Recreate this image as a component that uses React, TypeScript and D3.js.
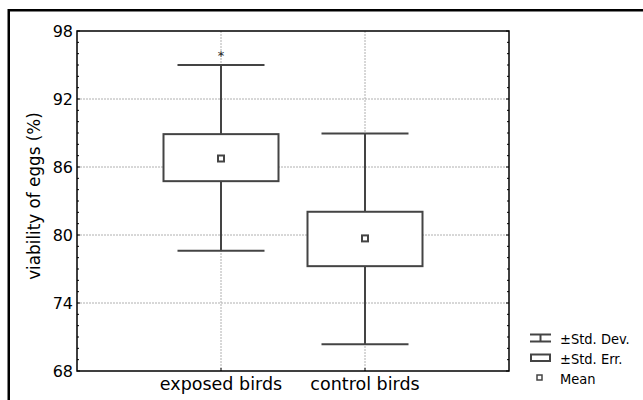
import React from "react";
import * as d3 from "d3";

const categories = ["exposed birds", "control birds"];
const means = [86.75, 79.7];
const seLow = [84.75, 77.25];
const seHigh = [88.9, 82.05];
const sdLow = [78.6, 70.35];
const sdHigh = [95.0, 88.95];
const outliers = [[95.95], []];
const yTicks = [68, 74, 80, 86, 92, 98];
const legendLabels = ["±Std. Dev.", "±Std. Err.", "Mean"];

const W = 643;
const H = 400;
const plot = { left: 77, top: 31, right: 509, bottom: 371 };
const font = "'DejaVu Sans', Verdana, sans-serif";
const boxColor = "#444";

export default function App() {
  const y = d3.scaleLinear().domain([68, 98]).range([plot.bottom, plot.top]);
  const x = d3.scalePoint<string>().domain(categories).range([plot.left, plot.right]).padding(1);
  const minor = d3.range(68, 99, 1);
  const boxHalf = 57.5;
  const capHalf = 43.5;

  return (
    <svg width={W} height={H} style={{ position: "absolute", left: 0, top: 0 }} xmlns="http://www.w3.org/2000/svg">
      <rect x={0} y={0} width={W} height={H} fill="white" />
      {/* outer frame */}
      <rect x={8.75} y={10.25} width={W + 20} height={H + 20} fill="none" stroke="black" strokeWidth={2.5} />

      {/* grid */}
      {yTicks.slice(1, -1).map((t) => (
        <line key={"gy" + t} x1={plot.left} x2={plot.right} y1={y(t)} y2={y(t)} stroke="#b0b0b0" strokeWidth={1} strokeDasharray="2,1" />
      ))}
      {categories.map((c) => (
        <line key={"gx" + c} x1={x(c)} x2={x(c)} y1={plot.top} y2={plot.bottom} stroke="#b0b0b0" strokeWidth={1} strokeDasharray="2,1" />
      ))}

      {/* minor ticks */}
      {minor.map((t) => (
        <g key={"mt" + t}>
          <line x1={plot.left} x2={plot.left + (t % 6 === 2 ? 3 : 2)} y1={y(t)} y2={y(t)} stroke="black" strokeWidth={1} />
          <line x1={plot.right} x2={plot.right - (t % 6 === 2 ? 3 : 2)} y1={y(t)} y2={y(t)} stroke="black" strokeWidth={1} />
        </g>
      ))}
      {categories.map((c) => (
        <line key={"bt" + c} x1={x(c)} x2={x(c)} y1={plot.bottom} y2={plot.bottom - 3} stroke="black" strokeWidth={1} />
      ))}

      {/* boxes */}
      {categories.map((c, i) => {
        const cx = x(c) as number;
        return (
          <g key={"box" + c} stroke={boxColor} strokeWidth={2} fill="none">
            <line x1={cx} x2={cx} y1={y(sdHigh[i])} y2={y(seHigh[i])} />
            <line x1={cx} x2={cx} y1={y(seLow[i])} y2={y(sdLow[i])} />
            <line x1={cx - capHalf} x2={cx + capHalf} y1={y(sdHigh[i])} y2={y(sdHigh[i])} />
            <line x1={cx - capHalf} x2={cx + capHalf} y1={y(sdLow[i])} y2={y(sdLow[i])} />
            <rect x={cx - boxHalf} y={y(seHigh[i])} width={boxHalf * 2} height={y(seLow[i]) - y(seHigh[i])} fill="white" />
            <rect x={cx - 3} y={y(means[i]) - 3} width={6} height={6} fill="white" />
            {outliers[i].map((o, j) => (
              <text key={j} x={cx} y={y(o) + 6} textAnchor="middle" fontFamily={font} fontSize={13} fill="#222" stroke="none">*</text>
            ))}
          </g>
        );
      })}

      {/* plot frame */}
      <rect x={plot.left} y={plot.top} width={plot.right - plot.left} height={plot.bottom - plot.top} fill="none" stroke="black" strokeWidth={1.5} />

      {/* y tick labels */}
      {yTicks.map((t) => (
        <text key={"yl" + t} x={73} y={y(t)} dy="0.36em" textAnchor="end" fontFamily={font} fontSize={16} fill="black">{t}</text>
      ))}
      {/* x labels */}
      {categories.map((c) => (
        <text key={"xl" + c} x={x(c)} y={390} textAnchor="middle" fontFamily={font} fontSize={17.5} fill="black">{c}</text>
      ))}
      {/* y title */}
      <text transform="translate(40,196) rotate(-90)" textAnchor="middle" fontFamily={font} fontSize={16.8} fill="black">viability of eggs (%)</text>

      {/* legend */}
      <g stroke={boxColor} strokeWidth={2} fill="none">
        <line x1={530} x2={551} y1={334.5} y2={334.5} />
        <line x1={530} x2={551} y1={341.5} y2={341.5} />
        <line x1={540.5} x2={540.5} y1={334.5} y2={341.5} />
        <rect x={531} y={354.5} width={19} height={6.5} fill="white" />
        <rect x={537} y={375} width={5} height={5} fill="white" strokeWidth={1.5} />
      </g>
      {legendLabels.map((l, i) => (
        <text key={"lg" + i} x={560} y={343.5 + i * 20.3} fontFamily="'DejaVu Sans Condensed', 'DejaVu Sans', sans-serif" fontSize={14.5} fill="black">{l}</text>
      ))}
    </svg>
  );
}
